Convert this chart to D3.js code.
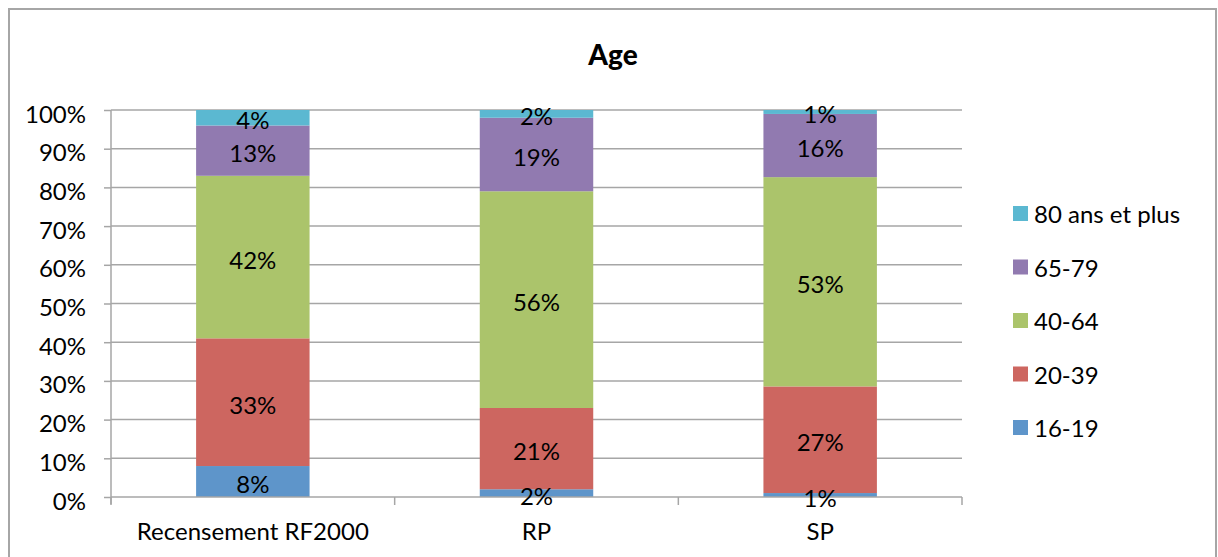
<!DOCTYPE html>
<html>
<head>
<meta charset="utf-8">
<script src="https://cdn.jsdelivr.net/npm/d3@7"></script>
<style>
  html, body { margin: 0; padding: 0; background: #fff; }
  svg text { font-family: Lato, "Open Sans", sans-serif; fill: #000; }
</style>
</head>
<body>
<svg id="chart" width="1218" height="557"></svg>
<script>
// Age groups by survey (shares in %, stacked to 100%)
const categories = ["Recensement RF2000", "RP", "SP"];
const ageGroups = ["16-19", "20-39", "40-64", "65-79", "80 ans et plus"];
const values1619 = [8, 2, 1];
const values2039 = [33, 21, 27];
const values4064 = [42, 56, 53];
const values6579 = [13, 19, 16];
const values80plus = [4, 2, 1];
const yTickLabels = ["0%", "10%", "20%", "30%", "40%", "50%", "60%", "70%", "80%", "90%", "100%"];
const colors = ["#5E95CA", "#CD6660", "#ABC46B", "#917AB0", "#5BB8D1"];

const seriesValues = [values1619, values2039, values4064, values6579, values80plus];
const rows = categories.map((c, i) => {
  const r = { category: c };
  ageGroups.forEach((g, j) => { r[g] = seriesValues[j][i]; });
  return r;
});

const svg = d3.select("#chart");

// outer chart frame
svg.append("rect")
  .attr("x", 9).attr("y", 9)
  .attr("width", 1207).attr("height", 570)
  .attr("fill", "none").attr("stroke", "#a6a6a6").attr("stroke-width", 2);

const plot = { left: 111, right: 962, top: 110, bottom: 497 };

const y = d3.scaleLinear().domain([0, 1]).range([plot.bottom, plot.top]);
const xSlot = d3.scaleBand().domain(categories).range([plot.left, plot.right]).padding(0);
const xBar = d3.scaleBand().domain(categories).range([plot.left, plot.right])
  .paddingInner(0.6).paddingOuter(0.3);
const color = d3.scaleOrdinal().domain(ageGroups).range(colors);

// title
svg.append("text")
  .attr("x", 613).attr("y", 65)
  .attr("text-anchor", "middle")
  .style("font-weight", "900").style("font-size", "28px")
  .text("Age");

// horizontal gridlines
const tickVals = d3.range(0, 11).map(d => d / 10);
svg.append("g").selectAll("line")
  .data(tickVals.slice(1))
  .join("line")
  .attr("x1", plot.left).attr("x2", plot.right)
  .attr("y1", d => y(d)).attr("y2", d => y(d))
  .attr("stroke", "#a6a6a6").attr("stroke-width", 1.5);

// y axis
const yAxis = svg.append("g")
  .attr("transform", `translate(${plot.left},0)`)
  .call(d3.axisLeft(y).tickValues(tickVals)
    .tickFormat((d, i) => yTickLabels[i]).tickSize(7).tickPadding(18));
yAxis.select(".domain").attr("stroke", "#a6a6a6").attr("stroke-width", 1.5)
  .attr("d", `M0,${plot.top}V${plot.bottom + 7}`);
yAxis.selectAll(".tick line").attr("stroke", "#a6a6a6").attr("stroke-width", 1.5);
yAxis.selectAll(".tick text").style("font-size", "24px").attr("dy", "0.5em");

// stacked bars (100%)
const stack = d3.stack().keys(ageGroups).offset(d3.stackOffsetExpand);
const stacked = stack(rows);

const layers = svg.append("g").selectAll("g")
  .data(stacked)
  .join("g")
  .attr("fill", d => color(d.key));

layers.selectAll("rect")
  .data(d => d)
  .join("rect")
  .attr("x", d => xBar(d.data.category))
  .attr("width", xBar.bandwidth())
  .attr("y", d => y(d[1]))
  .attr("height", d => y(d[0]) - y(d[1]));

// x axis
const xAxisG = svg.append("g").attr("transform", `translate(0,${plot.bottom})`);
xAxisG.append("line")
  .attr("x1", plot.left).attr("x2", plot.right)
  .attr("stroke", "#a6a6a6").attr("stroke-width", 1.5);
const boundaries = categories.map(c => xSlot(c)).concat([plot.right]);
xAxisG.selectAll("line.tick")
  .data(boundaries)
  .join("line")
  .attr("class", "tick")
  .attr("x1", d => d).attr("x2", d => d)
  .attr("y1", 0).attr("y2", 8)
  .attr("stroke", "#a6a6a6").attr("stroke-width", 1.5);
xAxisG.selectAll("text")
  .data(categories)
  .join("text")
  .attr("x", d => xSlot(d) + xSlot.bandwidth() / 2)
  .attr("y", 43)
  .attr("text-anchor", "middle")
  .style("font-size", "24px")
  .text(d => d);

// value labels centred in each segment
const labelLayer = svg.append("g");
stacked.forEach(layer => {
  labelLayer.selectAll(null)
    .data(layer)
    .join("text")
    .attr("x", d => xBar(d.data.category) + xBar.bandwidth() / 2)
    .attr("y", d => (y(d[0]) + y(d[1])) / 2)
    .attr("dy", "0.48em")
    .attr("text-anchor", "middle")
    .style("font-size", "24px")
    .text(d => d.data[layer.key] + "%");
});

// legend (top item = top of stack)
const legendKeys = ageGroups.slice().reverse();
const legendY = d3.scalePoint().domain(legendKeys).range([213.5, 427.5]);
const legend = svg.append("g").selectAll("g")
  .data(legendKeys)
  .join("g")
  .attr("transform", d => `translate(1013,${legendY(d)})`);
legend.append("rect")
  .attr("x", 0).attr("y", -7.5)
  .attr("width", 15).attr("height", 15)
  .attr("fill", d => color(d));
legend.append("text")
  .attr("x", 21).attr("y", 0).attr("dy", "0.4em")
  .style("font-size", "24px")
  .text(d => d);
</script>
</body>
</html>
